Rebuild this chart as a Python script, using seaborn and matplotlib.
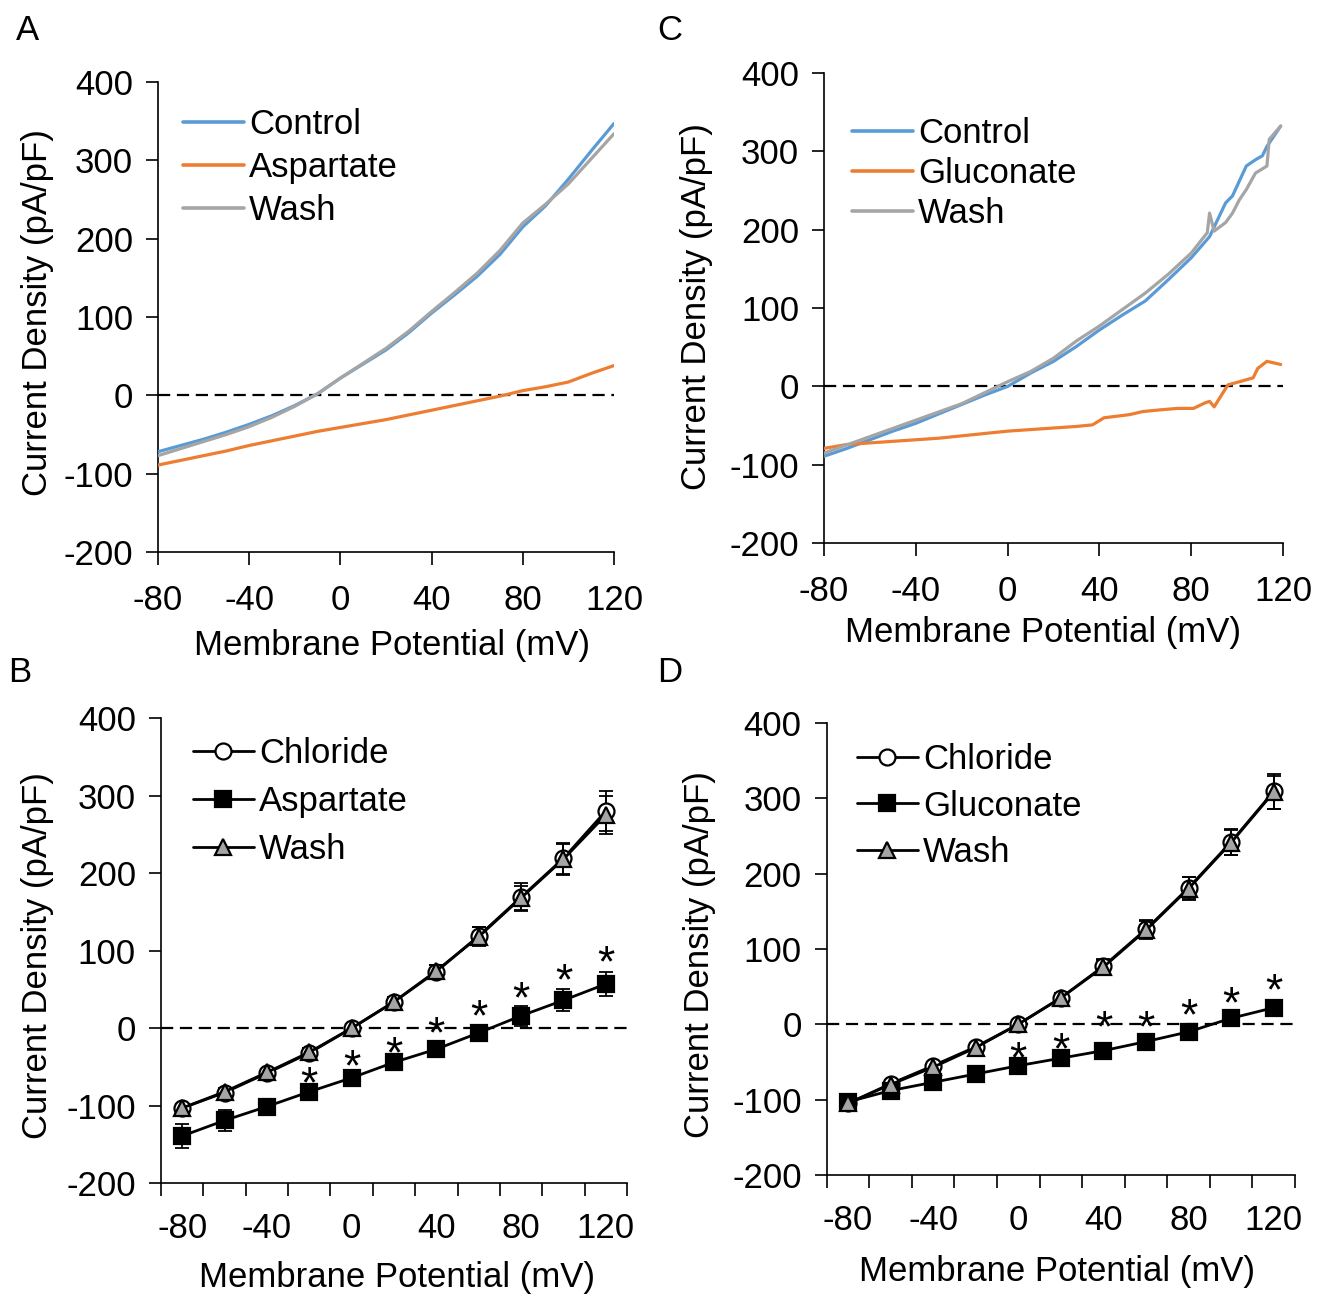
import numpy as np
import pandas as pd
import matplotlib
matplotlib.use("Agg")
import matplotlib.pyplot as plt
import matplotlib.transforms as mtransforms
from matplotlib.lines import Line2D
import seaborn as sns

# ---------------- data ----------------
# Panel A: representative traces (Control / Aspartate / Wash)
a_ctrl_v = [-80, -70, -60, -50, -40, -30, -20, -10, 0, 10, 20, 30, 40, 50, 60, 70, 80, 90, 100, 110, 120]
a_ctrl_i = [-72, -64, -56, -47, -37, -26, -13, 2, 22, 40, 58, 80, 105, 128, 152, 180, 215, 242, 276, 312, 347]
a_wash_v = [-80, -70, -60, -50, -40, -30, -20, -10, 0, 10, 20, 30, 40, 50, 60, 70, 80, 90, 100, 110, 120]
a_wash_i = [-77, -68, -59, -50, -40, -28, -14, 2, 22, 41, 60, 82, 107, 131, 156, 185, 220, 244, 270, 302, 334]
a_asp_v = [-80, -70, -60, -50, -40, -30, -20, -10, 0, 10, 20, 30, 40, 50, 60, 70, 80, 90, 100, 110, 120]
a_asp_i = [-89, -83, -77, -71, -64, -58, -52, -46, -41, -36, -31, -25, -19, -13, -7, -1, 6, 11, 17, 28, 38]

# Panel C: representative traces (Control / Gluconate / Wash)
c_ctrl_v = [-80, -70, -60, -50, -40, -30, -20, -10, 0, 10, 20, 30, 40, 50, 60, 70, 80, 88, 95, 98, 104, 108, 111, 113, 116, 119]
c_ctrl_i = [-89, -79, -68, -57, -47, -35, -23, -11, 0, 17, 32, 51, 72, 91, 109, 136, 164, 191, 234, 243, 281, 289, 294, 306, 319, 332]
c_wash_v = [-80, -60, -40, -20, -10, 0, 10, 20, 30, 40, 50, 60, 70, 80, 87, 88, 90, 95, 98, 101, 104, 108, 113, 114, 119]
c_wash_i = [-85, -64, -43, -22, -8, 6, 19, 36, 58, 77, 98, 119, 143, 170, 196, 221, 198, 209, 221, 238, 251, 272, 281, 315, 332]
c_glu_v = [-80, -70, -60, -50, -40, -30, -20, -10, 0, 10, 20, 30, 37, 42, 53, 59, 66, 74, 81, 86, 88, 90, 96, 101, 107, 109, 113, 119]
c_glu_i = [-79, -74, -72, -70, -68, -66, -63, -60, -57, -55, -53, -51, -49, -40, -36, -32, -30, -28, -28, -21, -19, -26, 2, 6, 11, 23, 32, 28]

# Panels B and D: mean +/- SEM at step potentials
steps = [-80, -60, -40, -20, 0, 20, 40, 60, 80, 100, 120]

b_chl = [-103, -83, -58, -32, 0, 34, 73, 119, 169, 219, 280]
b_chl_err = [5, 5, 5, 6, 5, 6, 8, 12, 18, 20, 26]
b_asp = [-139, -119, -101, -82, -64, -44, -27, -6, 16, 36, 57]
b_asp_err = [15, 13, 10, 8, 6, 6, 6, 7, 13, 14, 16]
b_wash = [-103, -82, -57, -31, 0, 34, 74, 118, 168, 218, 275]
b_wash_err = [5, 5, 5, 6, 5, 6, 7, 12, 16, 20, 25]
b_star_v = [-20, 0, 20, 40, 60, 80, 100, 120]
b_star_y = [-56, -34, -17, 9, 30, 54, 77, 100]

d_chl = [-105, -79, -55, -30, 0, 35, 77, 126, 181, 242, 309]
d_chl_err = [5, 5, 5, 5, 5, 6, 10, 12, 15, 17, 23]
d_glu = [-103, -88, -77, -66, -55, -45, -35, -23, -10, 8, 22]
d_glu_err = [6, 5, 5, 4, 4, 4, 4, 4, 4, 5, 6]
d_wash = [-105, -80, -57, -31, 0, 35, 76, 125, 180, 241, 308]
d_wash_err = [5, 5, 5, 5, 5, 6, 9, 12, 15, 17, 22]
d_star_v = [0, 20, 40, 60, 80, 100, 120]
d_star_y = [-29, -17, 11, 12, 27, 44, 61]

# ---------------- style ----------------
sns.set_style("ticks")
plt.rcParams["font.family"] = ["Liberation Sans", "DejaVu Sans"]
plt.rcParams["axes.unicode_minus"] = False
for k in ("axes.edgecolor", "xtick.color", "ytick.color", "text.color",
          "axes.labelcolor", "xtick.labelcolor", "ytick.labelcolor"):
    plt.rcParams[k] = "black"

FS = 25
BLUE = "#5B9BD5"
ORANGE = "#ED7D31"
GRAY = "#A5A5A5"

W, H = 1328, 1297
fig = plt.figure(figsize=(W / 100, H / 100), dpi=100)


def px_axes(l, t, r, b):
    return fig.add_axes([l / W, 1 - b / H, (r - l) / W, (b - t) / H])


def style(ax, xlim, cat, xlab_pos, ylab_pos):
    ax.set_xlim(*xlim)
    ax.set_ylim(-200, 400)
    sns.despine(ax=ax)
    for s in ("left", "bottom"):
        ax.spines[s].set_linewidth(1.2)
    ax.set_yticks(range(-200, 401, 100))
    ax.tick_params(axis="both", direction="out", length=9, width=1.2, labelsize=FS)
    ax.tick_params(axis="y", pad=9)
    ax.tick_params(axis="x", pad=14)
    if cat:
        ax.set_xticks(range(-90, 131, 20), minor=True)
        ax.set_xticks(range(-80, 121, 40))
        ax.tick_params(axis="x", which="major", length=0, pad=21)
        ax.tick_params(axis="x", which="minor", direction="out", length=9, width=1.2)
        ax.tick_params(axis="y", which="minor", length=0)
    else:
        ax.set_xticks(range(-80, 121, 40))
    ax.axhline(0, color="black", lw=1.6, dashes=(5.5, 3), zorder=1)
    ax.set_xlabel("Membrane Potential (mV)", fontsize=FS)
    ax.set_ylabel("Current Density (pA/pF)", fontsize=FS)
    ax.xaxis.set_label_coords(*xlab_pos)
    ax.yaxis.set_label_coords(*ylab_pos)
    ax.xaxis.label.set_va("center")
    ax.yaxis.label.set_va("center")


def fig_legend(ax, handles, labels, left_px, top_px, spacing):
    ax.legend(handles, labels, loc="upper left",
              bbox_to_anchor=(left_px / W, 1 - top_px / H),
              bbox_transform=fig.transFigure, frameon=False, fontsize=FS,
              borderpad=0, borderaxespad=0, handlelength=1.75,
              handletextpad=0.15, labelspacing=spacing)


# ---------------- panel A ----------------
axA = px_axes(158, 82, 614, 552)
sns.lineplot(x=a_ctrl_v, y=a_ctrl_i, ax=axA, color=BLUE, lw=2.3, estimator=None, sort=False, zorder=3)
sns.lineplot(x=a_asp_v, y=a_asp_i, ax=axA, color=ORANGE, lw=2.3, estimator=None, sort=False, zorder=3)
sns.lineplot(x=a_wash_v, y=a_wash_i, ax=axA, color=GRAY, lw=2.3, estimator=None, sort=False, zorder=4)
style(axA, (-80, 120), False, (0.513, -0.2), (-0.265, 0.51))
fig_legend(axA, [Line2D([], [], color=c, lw=2.6) for c in (BLUE, ORANGE, GRAY)],
           ["Control", "Aspartate", "Wash"], 183, 108, 0.29)

# ---------------- panel C ----------------
axC = px_axes(824, 72.7, 1283, 543.3)
sns.lineplot(x=c_ctrl_v, y=c_ctrl_i, ax=axC, color=BLUE, lw=2.3, estimator=None, sort=False, zorder=3)
sns.lineplot(x=c_glu_v, y=c_glu_i, ax=axC, color=ORANGE, lw=2.3, estimator=None, sort=False, zorder=3)
sns.lineplot(x=c_wash_v, y=c_wash_i, ax=axC, color=GRAY, lw=2.3, estimator=None, sort=False, zorder=4)
style(axC, (-80, 120), False, (0.477, -0.1885), (-0.277, 0.504))
fig_legend(axC, [Line2D([], [], color=c, lw=2.6) for c in (BLUE, ORANGE, GRAY)],
           ["Control", "Gluconate", "Wash"], 852, 117, 0.2)


# ---------------- panels B / D ----------------
MS = 11.5
MEW = 1.6
LW = 2.0


def iv_panel(ax, chl, chl_err, test, test_err, wash, wash_err, star_v, star_y):
    for vals, err in ((chl, chl_err), (test, test_err), (wash, wash_err)):
        ax.errorbar(steps, vals, yerr=err, fmt="none", ecolor="black", elinewidth=1.3,
                    capsize=5, capthick=1.3, zorder=2)
    sns.lineplot(x=steps, y=chl, ax=ax, color="black", lw=LW, marker="o", ms=MS,
                 mfc="white", mec="black", mew=MEW, estimator=None, zorder=3)
    sns.lineplot(x=steps, y=test, ax=ax, color="black", lw=LW, marker="s", ms=MS,
                 mfc="black", mec="black", mew=MEW, estimator=None, zorder=4)
    sns.lineplot(x=steps, y=wash, ax=ax, color="black", lw=LW, marker="^", ms=MS,
                 mfc=GRAY, mec="black", mew=MEW, estimator=None, zorder=5)
    SFS = 32
    tr = mtransforms.offset_copy(ax.transData, fig=fig, y=-0.58 * SFS, units="points")
    for v, y in zip(star_v, star_y):
        ax.text(v, y, "*", ha="center", va="baseline", fontsize=SFS, transform=tr, zorder=6)


def iv_handles():
    return [Line2D([], [], color="black", lw=LW, marker="o", ms=MS, mfc="white", mec="black", mew=MEW),
            Line2D([], [], color="black", lw=LW, marker="s", ms=MS, mfc="black", mec="black", mew=MEW),
            Line2D([], [], color="black", lw=LW, marker="^", ms=MS, mfc=GRAY, mec="black", mew=MEW)]


axB = px_axes(161, 718, 627, 1183.3)
iv_panel(axB, b_chl, b_chl_err, b_asp, b_asp_err, b_wash, b_wash_err, b_star_v, b_star_y)
style(axB, (-90, 130), True, (0.506, -0.2035), (-0.266, 0.49))
fig_legend(axB, iv_handles(), ["Chloride", "Aspartate", "Wash"], 193, 737, 0.43)

axD = px_axes(826.7, 722.8, 1295, 1175)
iv_panel(axD, d_chl, d_chl_err, d_glu, d_glu_err, d_wash, d_wash_err, d_star_v, d_star_y)
style(axD, (-90, 130), True, (0.492, -0.2145), (-0.2706, 0.487))
fig_legend(axD, iv_handles(), ["Chloride", "Gluconate", "Wash"], 857, 743, 0.39)

# panel letters
for lab, x, y in (("A", 28, 30), ("C", 670, 30), ("B", 20, 672), ("D", 670, 672)):
    fig.text(x / W, 1 - y / H, lab, ha="center", va="center", fontsize=FS)

fig.savefig("out.png", dpi=100)
